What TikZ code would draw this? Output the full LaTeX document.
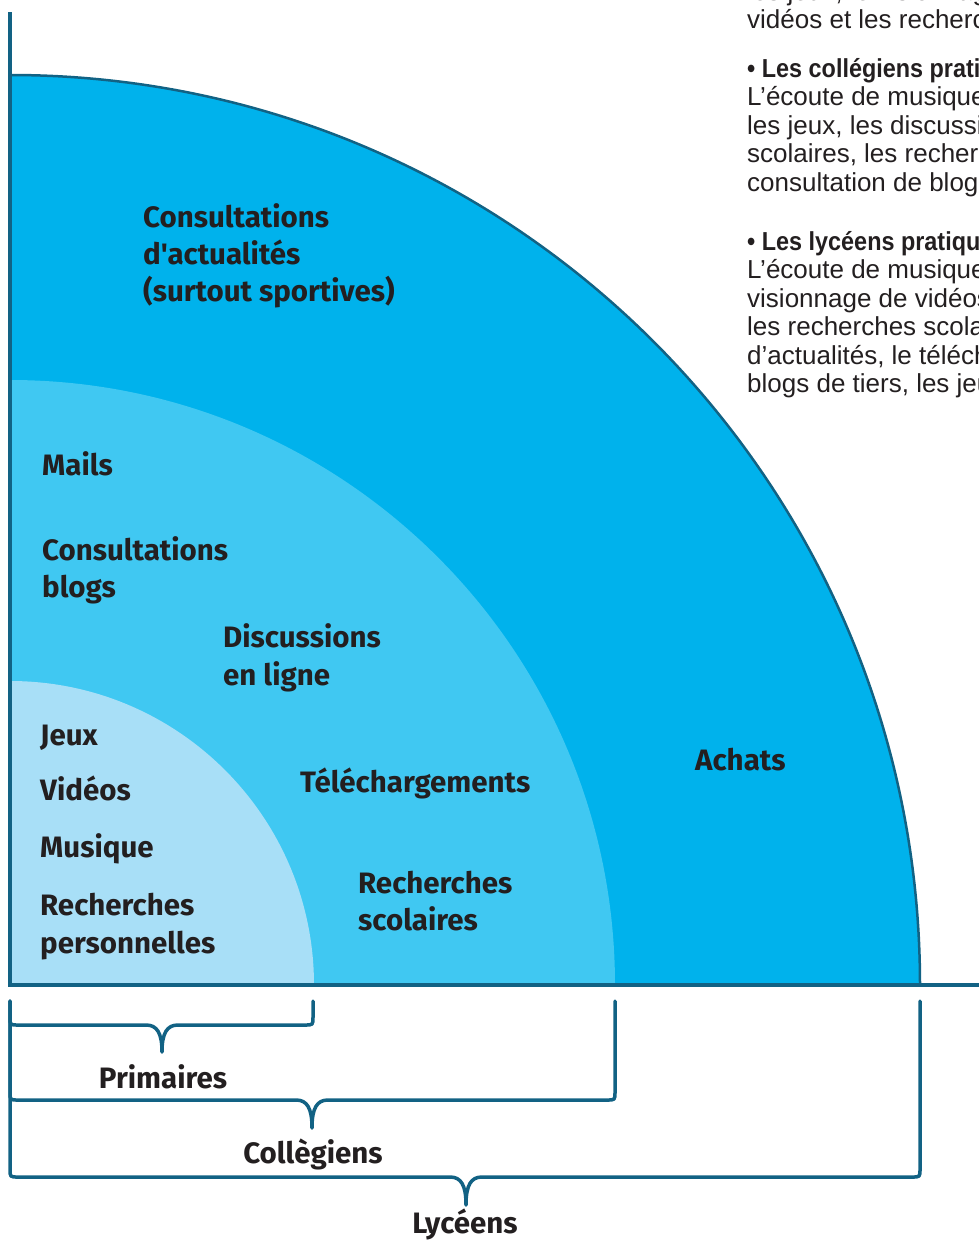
\documentclass[tikz,border=0pt]{standalone}
\usepackage{fontspec}
\setmainfont{Liberation Sans}
\newfontfamily\lblfont{Fira Sans}
\newfontfamily\paraboldfont[FakeStretch=0.9]{Liberation Sans Bold}
\definecolor{outerc}{RGB}{0,178,236}
\definecolor{midc}{RGB}{64,200,242}
\definecolor{innerc}{RGB}{168,223,247}
\definecolor{linec}{RGB}{18,98,132}
\definecolor{txtc}{RGB}{35,31,32}
\tikzset{
  lbl/.style={anchor=base west, inner sep=0pt, text=txtc, font=\lblfont\bfseries\fontsize{29.5}{34}\selectfont},
  blbl/.style={anchor=base, inner sep=0pt, text=txtc, font=\lblfont\bfseries\fontsize{29.5}{34}\selectfont},
  para/.style={anchor=base west, inner sep=0pt, text=txtc, font=\fontsize{26}{29}\selectfont},
  parab/.style={anchor=base west, inner sep=0pt, text=txtc, font=\paraboldfont\fontsize{26}{29}\selectfont},
  axisline/.style={draw=linec, line width=4pt},
  bracketline/.style={draw=linec, line width=3.5pt, line cap=round, line join=round},
}
\begin{document}
\begin{tikzpicture}[x=1pt,y=1pt]
\useasboundingbox (0,0) rectangle (979,-1242);
\coordinate (C) at (10,-985);
% quarter discs
\fill[outerc] (C) -- (10,-75) arc[start angle=90, end angle=0, radius=910] -- cycle;
\draw[draw=linec, line width=2.5pt] (10,-75) arc[start angle=90, end angle=0, radius=910];
\fill[midc] (C) -- (10,-380) arc[start angle=90, end angle=0, radius=605] -- cycle;
\fill[innerc] (C) -- (10,-681) arc[start angle=90, end angle=0, radius=304] -- cycle;
% axes
\draw[axisline] (10,-12) -- (C) -- (979,-985);
% labels in the discs
\node[lbl] (ca1) at (143,-227) {Consultations};
\node[lbl] (ca2) at (143,-264) {d'actualités};
\node[lbl] (ca3) at (143,-301) {(surtout sportives)};
\node[lbl] (mails) at (42,-475) {Mails};
\node[lbl] (cb1) at (42,-560) {Consultations};
\node[lbl] (cb2) at (42,-597) {blogs};
\node[lbl] (dl1) at (223,-647) {Discussions};
\node[lbl] (dl2) at (223,-685) {en ligne};
\node[lbl] (jeux) at (40,-745) {Jeux};
\node[lbl] (videos) at (40,-800) {Vidéos};
\node[lbl] (musique) at (40,-857) {Musique};
\node[lbl] (rp1) at (40,-915) {Recherches};
\node[lbl] (rp2) at (40,-953) {personnelles};
\node[lbl] (telech) at (300,-792) {Téléchargements};
\node[lbl] (rs1) at (358,-893) {Recherches};
\node[lbl] (rs2) at (358,-930) {scolaires};
\node[lbl] (achats) at (695,-770) {Achats};
% brackets
\draw[bracketline] (10,-1001) -- (10,-1017) .. controls (10,-1025) .. (18,-1025) -- (146,-1025)
  .. controls (157,-1025) and (162,-1033) .. (162,-1052)
  .. controls (162,-1033) and (167,-1025) .. (178,-1025) -- (305,-1025) .. controls (313,-1025) .. (313,-1017) -- (313,-1001);
\draw[bracketline] (10,-1001) -- (10,-1092) .. controls (10,-1100) .. (18,-1100) -- (296,-1100)
  .. controls (307,-1100) and (312,-1108) .. (312,-1128)
  .. controls (312,-1108) and (317,-1100) .. (328,-1100) -- (607,-1100) .. controls (615,-1100) .. (615,-1092) -- (615,-1001);
\draw[bracketline] (10,-1001) -- (10,-1169) .. controls (10,-1177) .. (18,-1177) -- (450,-1177)
  .. controls (461,-1177) and (466,-1185) .. (466,-1205)
  .. controls (466,-1185) and (471,-1177) .. (482,-1177) -- (912,-1177) .. controls (920,-1177) .. (920,-1169) -- (920,-1001);
\node[blbl] (prim) at (163,-1088) {Primaires};
\node[blbl] (coll) at (313,-1163) {Collègiens};
\node[blbl] (lyc) at (465,-1233) {Lycéens};
% side text (cut at the right edge)
\begin{scope}
\clip (0,0) rectangle (979,-1242);
\node[para] (p0) at (747,-0.5) {les jeux, le visionnage de};
\node[para] (p1) at (747,-28) {vidéos et les recherches};
\node[parab] (p2) at (747,-77) {• Les collégiens pratiquent :};
\node[para] (p3) at (747,-105.5) {L’écoute de musique,};
\node[para] (p4) at (747,-134) {les jeux, les discussions};
\node[para] (p5) at (747,-162.5) {scolaires, les recherches};
\node[para] (p6) at (747,-191) {consultation de blogs.};
\node[parab] (p7) at (747,-250) {• Les lycéens pratiquent :};
\node[para] (p8) at (747,-278.5) {L’écoute de musique,};
\node[para] (p9) at (747,-307) {visionnage de vidéos,};
\node[para] (p10) at (747,-335.5) {les recherches scolaires,};
\node[para] (p11) at (747,-364) {d’actualités, le téléchargement,};
\node[para] (p12) at (747,-392.5) {blogs de tiers, les jeux};
\end{scope}
\end{tikzpicture}
\end{document}
